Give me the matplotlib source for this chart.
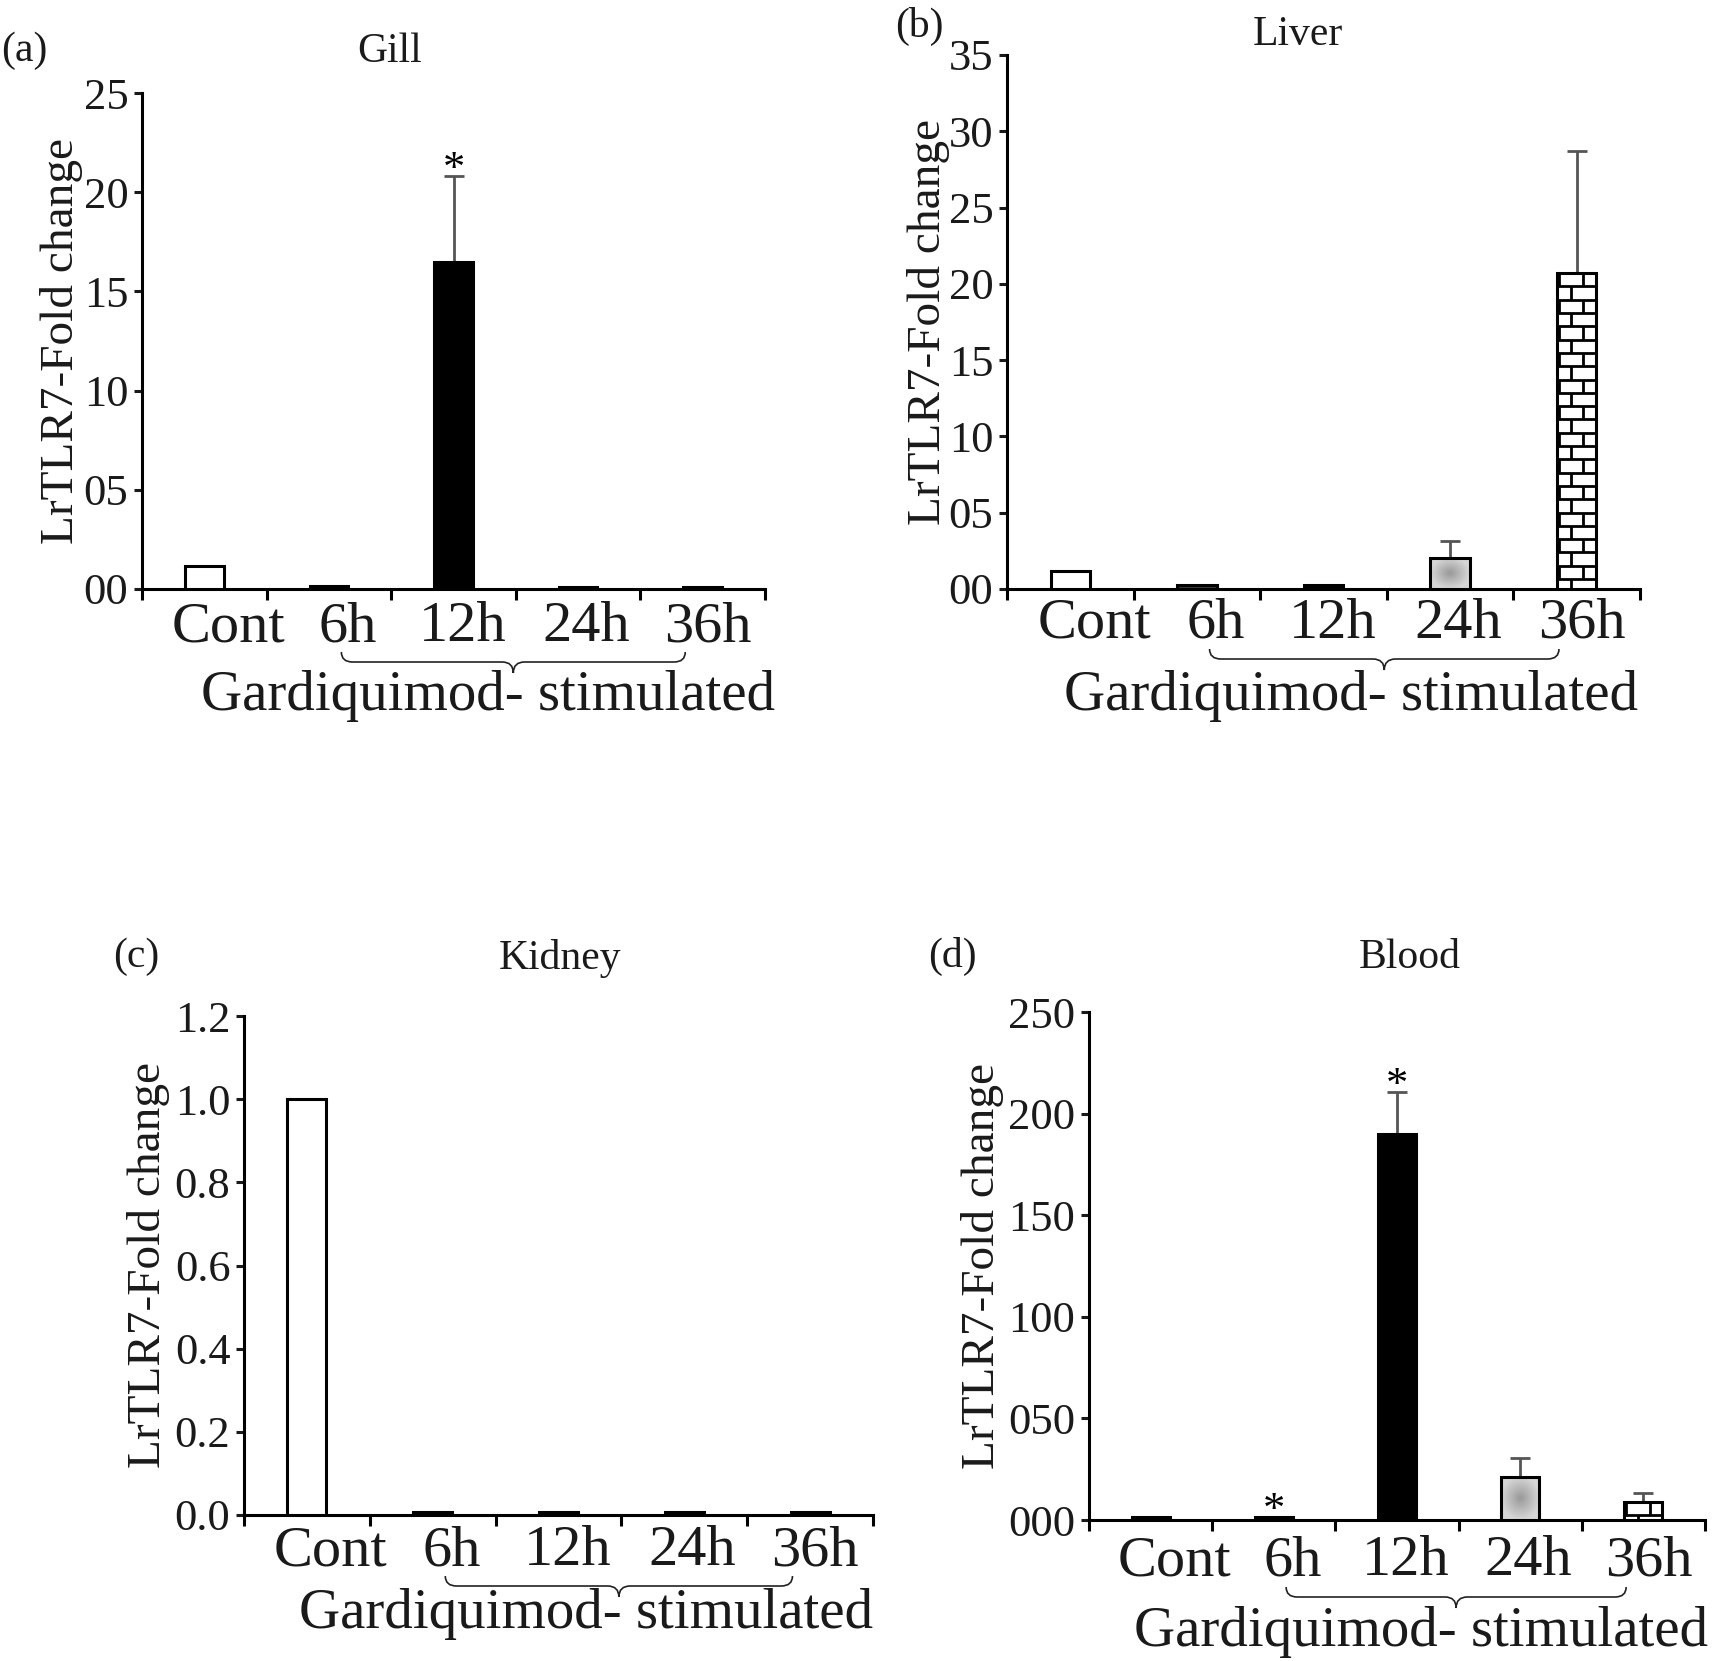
import numpy as np
import matplotlib
matplotlib.use('Agg')
import matplotlib.pyplot as plt
from matplotlib.path import Path
from matplotlib.patches import PathPatch
from matplotlib.collections import LineCollection
from matplotlib.transforms import blended_transform_factory, offset_copy

plt.rcParams['font.family'] = ['Liberation Serif', 'DejaVu Serif']

W, H, DPI = 1713, 1661, 100

# ---- data ----
categories = ['Cont', '6h', '12h', '24h', '36h']

gill_mean = [1.15, 0.15, 16.5, 0.1, 0.1]
gill_err = [0, 0, 4.3, 0, 0]
gill_sig = [False, False, True, False, False]
gill_ticks = [0, 5, 10, 15, 20, 25]
gill_ticklabels = ['00', '05', '10', '15', '20', '25']

liver_mean = [1.15, 0.25, 0.25, 2.05, 20.7]
liver_err = [0, 0, 0, 1.1, 8.0]
liver_sig = [False, False, False, False, False]
liver_ticks = [0, 5, 10, 15, 20, 25, 30, 35]
liver_ticklabels = ['00', '05', '10', '15', '20', '25', '30', '35']

kidney_mean = [1.0, 0.008, 0.008, 0.008, 0.008]
kidney_err = [0, 0, 0, 0, 0]
kidney_sig = [False, False, False, False, False]
kidney_ticks = [0.0, 0.2, 0.4, 0.6, 0.8, 1.0, 1.2]
kidney_ticklabels = ['0.0', '0.2', '0.4', '0.6', '0.8', '1.0', '1.2']

blood_mean = [1.5, 1.5, 190.0, 21.2, 9.1]
blood_err = [0, 0, 20.5, 9.1, 4.2]
blood_sig = [False, True, True, False, False]
blood_ticks = [0, 50, 100, 150, 200, 250]
blood_ticklabels = ['000', '050', '100', '150', '200', '250']

ylabel = 'LrTLR7-Fold change'
xlabel = 'Gardiquimod- stimulated'

# ---- styling / layout (pixels of the full figure) ----
FACES = ['white', '#3a3a3a', 'black', 'none', 'white']
LABEL_SHIFT = [24, 19, 9, 8, 5]
BAR_W = 0.31

panels = [
    dict(mean=gill_mean, err=gill_err, sig=gill_sig, ticks=gill_ticks, tl=gill_ticklabels,
         title='Gill', letter='(a)', rect=(142, 93, 765, 589), tdy=52, bdy=73, xdy=121, xdx=10,
         ydx=80, let_xy=(24, 51), tit_xy=(390, 52)),
    dict(mean=liver_mean, err=liver_err, sig=liver_sig, ticks=liver_ticks, tl=liver_ticklabels,
         title='Liver', letter='(b)', rect=(1007, 55, 1640, 589), tdy=49, bdy=70, xdy=121, xdx=-2,
         ydx=79, let_xy=(919, 26), tit_xy=(1298, 35)),
    dict(mean=kidney_mean, err=kidney_err, sig=kidney_sig, ticks=kidney_ticks, tl=kidney_ticklabels,
         title='Kidney', letter='(c)', rect=(244, 1016, 873, 1515), tdy=50, bdy=71, xdy=113, xdx=0,
         ydx=96, let_xy=(136, 957), tit_xy=(560, 958)),
    dict(mean=blood_mean, err=blood_err, sig=blood_sig, ticks=blood_ticks, tl=blood_ticklabels,
         title='Blood', letter='(d)', rect=(1089, 1012, 1705, 1520), tdy=55, bdy=77, xdy=126, xdx=3,
         ydx=107, let_xy=(952, 956), tit_xy=(1410, 958)),
]


def gradient_fill(ax, bar):
    x0, w, h = bar.get_x(), bar.get_width(), bar.get_height()
    gx, gy = np.meshgrid(np.linspace(-1, 1, 80), np.linspace(-1, 1, 80))
    r = np.clip(np.sqrt(gx ** 2 + gy ** 2), 0, 1)
    img = 0.60 + 0.24 * r
    im = ax.imshow(img, extent=[x0, x0 + w, 0, h], cmap='gray', vmin=0, vmax=1,
                   aspect='auto', interpolation='bilinear', zorder=2.9)
    im.set_clip_path(bar)


def brick_fill(ax, bar, px_x, px_y):
    x0, w, h = bar.get_x(), bar.get_width(), bar.get_height()
    row = 13.3 / px_y
    brick = 24.3 / px_x
    segs = []
    for i, yt in enumerate(np.arange(h, 0, -row)):
        yb = max(yt - row, 0)
        if yb > 0:
            segs.append([(x0, yb), (x0 + w, yb)])
        start = x0 + (26 if i % 2 == 0 else 14) / px_x
        for xv in np.arange(start - 3 * brick, x0 + w, brick):
            if x0 + 1 / px_x < xv < x0 + w - 1 / px_x:
                segs.append([(xv, yb), (xv, yt)])
    lc = LineCollection(segs, colors='black', linewidths=2.0, zorder=3.5)
    ax.add_collection(lc)
    lc.set_clip_path(bar)


def draw_brace(ax, x0, x1, xm, dy_px, ax_h_px):
    tr = blended_transform_factory(ax.transData, ax.transAxes)
    y = -dy_px / ax_h_px
    up = 10 / ax_h_px
    dn = 11 / ax_h_px
    r = 0.09
    verts = [(x0, y + up), (x0, y), (x0 + r, y),
             (xm - r, y), (xm, y), (xm, y - dn),
             (xm, y), (xm + r, y),
             (x1 - r, y), (x1, y), (x1, y + up)]
    codes = [Path.MOVETO, Path.CURVE3, Path.CURVE3,
             Path.LINETO, Path.CURVE3, Path.CURVE3,
             Path.CURVE3, Path.CURVE3,
             Path.LINETO, Path.CURVE3, Path.CURVE3]
    ax.add_patch(PathPatch(Path(verts, codes), transform=tr, fill=False,
                           edgecolor='#222222', linewidth=1.2, clip_on=False))


fig = plt.figure(figsize=(W / DPI, H / DPI), dpi=DPI)

for p in panels:
    l, t, r, b = p['rect']
    ax = fig.add_axes([l / W, 1 - b / H, (r - l) / W, (b - t) / H])
    ax_w_px, ax_h_px = r - l, b - t
    ymax = p['ticks'][-1]
    x = np.arange(len(categories))

    bars = ax.bar(x, p['mean'], width=BAR_W, color=FACES, edgecolor='black',
                  linewidth=2.2, zorder=3)
    for i, e in enumerate(p['err']):
        if e > 0:
            ax.errorbar(x[i], p['mean'][i], yerr=[[0], [e]], fmt='none', ecolor='#555555',
                        elinewidth=2, capsize=7, capthick=2, zorder=2)
        if p['sig'][i]:
            ax.annotate('*', xy=(x[i], p['mean'][i] + e), xytext=(0, -5),
                        textcoords='offset pixels', ha='center', va='baseline',
                        fontsize=32, color='black')

    px_x = ax_w_px / 5.0
    px_y = ax_h_px / ymax
    gradient_fill(ax, bars[3])
    brick_fill(ax, bars[4], px_x, px_y)

    ax.set_xlim(-0.5, 4.5)
    ax.set_ylim(0, ymax)
    for s in ['top', 'right']:
        ax.spines[s].set_visible(False)
    for s in ['left', 'bottom']:
        ax.spines[s].set_linewidth(2.2)

    ax.set_yticks(p['ticks'])
    ax.set_yticklabels(p['tl'])
    ax.tick_params(axis='y', direction='out', length=5.8, width=2.2, labelsize=32, pad=4,
                   colors='#1a1a1a')
    ax.set_xticks(np.arange(-0.5, 5.0, 1.0))
    ax.set_xticklabels([])
    ax.tick_params(axis='x', direction='out', length=8, width=2.2)

    blend = blended_transform_factory(ax.transData, ax.transAxes)
    for i, lab in enumerate(categories):
        tr = offset_copy(blend, fig=fig, x=LABEL_SHIFT[i], y=-p['tdy'], units='dots')
        ax.text(x[i], 0, lab, transform=tr, ha='center', va='baseline', fontsize=42,
                color='#1a1a1a')

    draw_brace(ax, 1.1, 3.86, 2.48, p['bdy'], ax_h_px)

    tr = offset_copy(ax.transAxes, fig=fig, x=p['xdx'], y=-p['xdy'], units='dots')
    ax.text(1, 0, xlabel, transform=tr, ha='right', va='baseline', fontsize=41,
            color='#1a1a1a')

    tr = offset_copy(ax.transAxes, fig=fig, x=-p['ydx'], y=0, units='dots')
    ax.text(0, 0.5, ylabel, transform=tr, rotation=90, ha='center', va='center',
            fontsize=34, color='#1a1a1a')

    lx, ly = p['let_xy']
    fig.text(lx / W, 1 - ly / H, p['letter'], ha='center', va='center', fontsize=30,
             color='#1a1a1a')
    tx, ty = p['tit_xy']
    fig.text(tx / W, 1 - ty / H, p['title'], ha='center', va='center', fontsize=30,
             color='#1a1a1a')

fig.savefig('out.png', dpi=DPI)
